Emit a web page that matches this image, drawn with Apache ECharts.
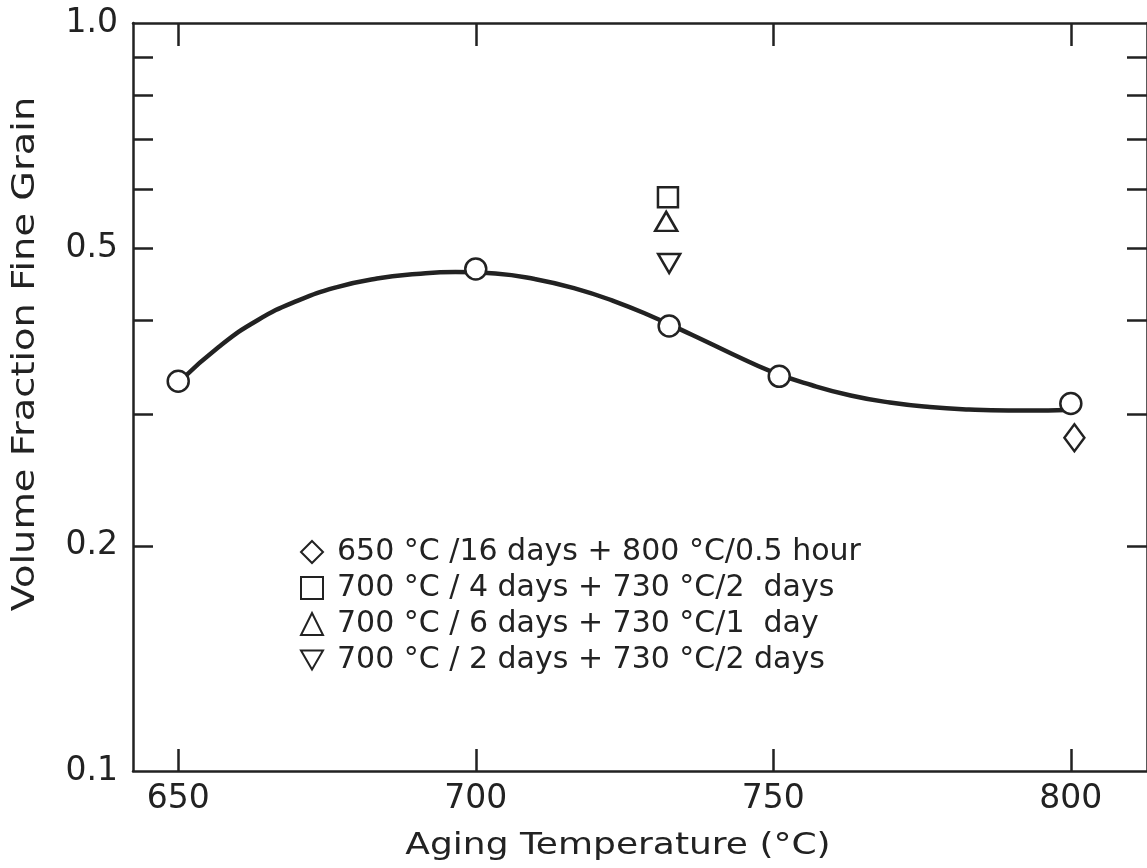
<!DOCTYPE html>
<html>
<head>
<meta charset="utf-8">
<title>Volume Fraction Fine Grain</title>
<script src="https://cdn.jsdelivr.net/npm/echarts@6/dist/echarts.min.js"></script>
<style>
html, body { margin: 0; padding: 0; background: #fff; }
#main { width: 1147px; height: 868px; }
</style>
</head>
<body>
<div id="main"></div>
<script>
// measured points (open circles)
var agingTemp = [650, 700, 732.5, 751, 800];
var fineGrain = [0.332, 0.469, 0.3935, 0.337, 0.310];

// hand drawn curve
var curveTemp = [650.5, 656.8, 663.4, 670.1, 676.7, 683.4, 690.0, 696.6, 703.3, 709.9, 716.5, 723.2,
                 729.8, 736.4, 743.1, 749.7, 756.4, 763.0, 769.6, 776.3, 782.9, 789.5, 796.2, 799.2];
var curveFrac = [0.3332, 0.3689, 0.4008, 0.4255, 0.4436, 0.4554, 0.4617, 0.4646, 0.4625, 0.4547, 0.4422, 0.4249,
                 0.4045, 0.3827, 0.3610, 0.3420, 0.3281, 0.3177, 0.3109, 0.3066, 0.3043, 0.3034, 0.3034, 0.3038];

// two step treatments
var stepNames = [
    "650 °C /16 days + 800 °C/0.5 hour",
    "700 °C / 4 days + 730 °C/2  days",
    "700 °C / 6 days + 730 °C/1  day",
    "700 °C / 2 days + 730 °C/2 days"
];
var stepTemp = [800.6, 732.3, 732.0, 732.5];
var stepFrac = [0.279, 0.585, 0.543, 0.477];

// axis ticks
var xTicks = [650, 700, 750, 800];
var yLabels = [0.1, 0.2, 0.5, 1];
var yTicks = [0.2, 0.3, 0.4, 0.5, 0.6, 0.7, 0.8, 0.9];

var ink = "#222";
var font = "DejaVu Sans";

var chart = echarts.init(document.getElementById("main"));
window.addEventListener("resize", chart.resize);

function pairs(xs, ys) {
    var out = [];
    for (var i = 0; i < xs.length; i++) {
        out.push([xs[i], ys[i]]);
    }
    return out;
}

var hollow = {
    color: "#fff",
    borderColor: ink,
    borderWidth: 2.5,
    opacity: 1
};

var stepSymbols = [
    { symbol: "diamond", size: [20, 27] },
    { symbol: "rect", size: [20, 20] },
    { symbol: "triangle", size: [22, 19] },
    { symbol: "path://M0,0 L22,0 L11,19 Z", size: [22, 19] }
];

var series = [{
    name: "curve",
    type: "line",
    data: pairs(curveTemp, curveFrac),
    smooth: true,
    showSymbol: false,
    z: 1,
    lineStyle: { color: ink, width: 4.5 },
    silent: true
}, {
    name: "aging",
    type: "scatter",
    data: pairs(agingTemp, fineGrain),
    symbol: "circle",
    symbolSize: 21,
    z: 3,
    itemStyle: hollow
}];

for (var i = 0; i < stepNames.length; i++) {
    series.push({
        name: stepNames[i],
        type: "scatter",
        data: [[stepTemp[i], stepFrac[i]]],
        symbol: stepSymbols[i].symbol,
        symbolSize: stepSymbols[i].size,
        z: 3,
        itemStyle: hollow
    });
}

var xBase = {
    type: "value",
    min: 642.4,
    max: 812.8,
    splitLine: { show: false },
    axisLine: { lineStyle: { color: ink, width: 2.5 } }
};
var yBase = {
    type: "log",
    logBase: 10,
    min: 0.1,
    max: 1,
    splitLine: { show: false },
    axisLine: { lineStyle: { color: ink, width: 2.5 } }
};

var option = {
    backgroundColor: "#fff",
    animation: false,
    grid: {
        left: 133,
        top: 23,
        width: 1027,
        height: 748
    },
    xAxis: [
        echarts.util.merge({
            position: "bottom",
            axisTick: { inside: true, length: 22, customValues: xTicks, lineStyle: { color: ink, width: 2.5 } },
            axisLabel: {
                customValues: xTicks,
                margin: 12,
                color: ink,
                fontFamily: font,
                fontSize: 33
            }
        }, xBase),
        echarts.util.merge({
            position: "top",
            axisTick: { inside: true, length: 23, customValues: xTicks, lineStyle: { color: ink, width: 2.5 } },
            axisLabel: { show: false }
        }, xBase)
    ],
    yAxis: [
        echarts.util.merge({
            position: "left",
            axisTick: { inside: true, length: 20, customValues: yTicks, lineStyle: { color: ink, width: 2.5 } },
            axisLabel: {
                customValues: yLabels,
                margin: 15,
                color: ink,
                fontFamily: font,
                fontSize: 33,
                formatter: function(v) {
                    return v.toFixed(1);
                }
            }
        }, yBase),
        echarts.util.merge({
            position: "right",
            axisTick: { inside: true, length: 20, customValues: yTicks, lineStyle: { color: ink, width: 2.5 } },
            axisLabel: { show: false }
        }, yBase)
    ],
    legend: {
        data: stepNames,
        orient: "vertical",
        left: 300,
        top: 537,
        padding: 0,
        itemGap: 6,
        itemWidth: 22,
        itemHeight: 22,
        selectedMode: false,
        textStyle: {
            color: ink,
            fontFamily: font,
            fontSize: 30,
            lineHeight: 30,
            padding: [0, 0, 0, 9]
        }
    },
    graphic: [{
        type: "text",
        x: 26,
        y: 354,
        rotation: Math.PI / 2,
        scaleX: 1.2,
        style: {
            text: "Volume Fraction Fine Grain",
            font: "32px " + font,
            fill: ink,
            align: "center",
            verticalAlign: "middle"
        }
    }, {
        type: "text",
        x: 618,
        y: 846,
        scaleX: 1.2,
        style: {
            text: "Aging Temperature (°C)",
            font: "30px " + font,
            fill: ink,
            align: "center",
            verticalAlign: "middle"
        }
    }],
    series: series
};

chart.setOption(option);
</script>
</body>
</html>
